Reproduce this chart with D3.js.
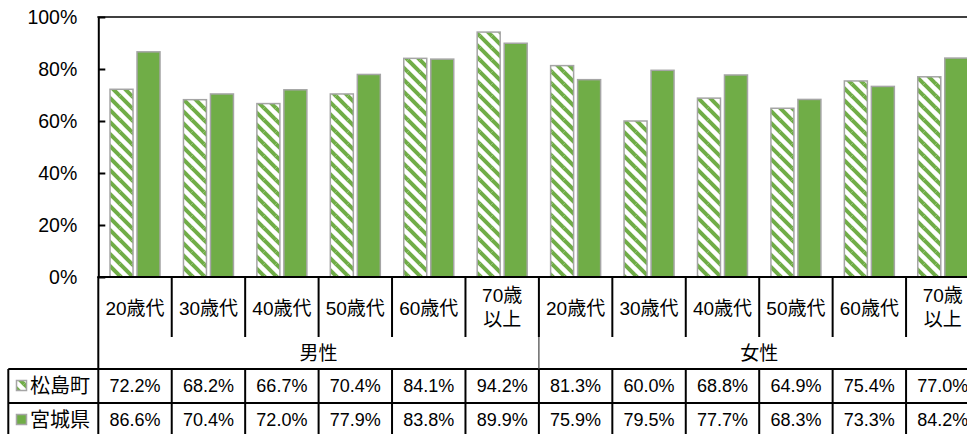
<!DOCTYPE html>
<html>
<head>
<meta charset="utf-8">
<script src="https://cdn.jsdelivr.net/npm/d3@7"></script>
<style>
  html, body { margin: 0; padding: 0; background: #fff; overflow: hidden; }
  svg { display: block; font-family: "Liberation Sans", "Noto Sans CJK JP", sans-serif; }
</style>
</head>
<body>
<svg id="chart" width="967" height="434"></svg>
<script>
// Age brackets (two-line labels split on "\n")
const categories = ["20歳代", "30歳代", "40歳代", "50歳代", "60歳代", "70歳\n以上",
                    "20歳代", "30歳代", "40歳代", "50歳代", "60歳代", "70歳\n以上"];
const groups = ["男性", "女性"];
const groupSizes = [6, 6];
const seriesNames = ["松島町", "宮城県"];
const matsushima = [72.2, 68.2, 66.7, 70.4, 84.1, 94.2, 81.3, 60.0, 68.8, 64.9, 75.4, 77.0];
const miyagi = [86.6, 70.4, 72.0, 77.9, 83.8, 89.9, 75.9, 79.5, 77.7, 68.3, 73.3, 84.2];
const yTicks = [0, 20, 40, 60, 80, 100];

const GREEN = "#70AD47";
const BORDER = "#A5A5A5";

const svg = d3.select("#chart");
const plotLeft = 98.3, plotRight = 979.5, plotTop = 17, plotBottom = 277;

const idx = d3.range(categories.length);
const x = d3.scaleBand().domain(idx).range([plotLeft, plotRight]).padding(0);
const y = d3.scaleLinear().domain([0, 100]).range([plotBottom, plotTop]);
const x1 = d3.scaleBand().domain(seriesNames).range([0, 50]).paddingInner(4 / 27);
const groupOffset = (x.bandwidth() - 50) / 2;

// Diagonal hatch fill
const defs = svg.append("defs");
const hatch = defs.append("pattern")
  .attr("id", "hatch").attr("patternUnits", "userSpaceOnUse")
  .attr("width", 12).attr("height", 12);
hatch.append("rect").attr("width", 12).attr("height", 12).attr("fill", "#fff");
[[-12, -12], [0, 0], [12, 12], [-12, 0], [0, -12], [12, 0], [0, 12]].forEach(([dx, dy]) => {
  hatch.append("line")
    .attr("x1", dx).attr("y1", dy).attr("x2", dx + 12).attr("y2", dy + 12)
    .attr("stroke", GREEN).attr("stroke-width", 4);
});

const fills = { "松島町": "url(#hatch)", "宮城県": GREEN };
const values = { "松島町": matsushima, "宮城県": miyagi };

// Bars
const barG = svg.append("g");
seriesNames.forEach(s => {
  barG.selectAll(null).data(values[s]).enter().append("rect")
    .attr("x", (d, i) => x(i) + groupOffset + x1(s))
    .attr("y", d => y(d))
    .attr("width", x1.bandwidth())
    .attr("height", d => y(0) - y(d))
    .attr("fill", fills[s])
    .attr("stroke", BORDER).attr("stroke-width", 1.5);
});

// Y axis with inward ticks
const yAxis = d3.axisLeft(y).tickValues(yTicks).tickSize(-7).tickSizeOuter(0)
  .tickPadding(21).tickFormat(d => d + "%");
const ag = svg.append("g").attr("transform", `translate(${plotLeft},0)`).call(yAxis);
ag.select(".domain").attr("stroke", "#000").attr("stroke-width", 2);
ag.selectAll(".tick line").attr("stroke", "#000").attr("stroke-width", 2);
ag.selectAll(".tick text").attr("fill", "#000").style("font-size", "19.5px")
  .style("font-family", "'Liberation Sans', sans-serif").attr("dy", "0.35em");

// Top border line
svg.append("line").attr("x1", plotLeft - 1).attr("x2", plotRight).attr("y1", plotTop).attr("y2", plotTop)
  .attr("stroke", "#000").attr("stroke-width", 1.5);

// Data table beneath the plot
const tg = svg.append("g");
const catBottom = 337, groupRowBottom = 369, rowH = 34, tableLeft = 8.3;
const rowTops = [groupRowBottom, groupRowBottom + rowH];

const line = (x1_, y1_, x2_, y2_, w = 2, c = "#000") =>
  tg.append("line").attr("x1", x1_).attr("y1", y1_).attr("x2", x2_).attr("y2", y2_)
    .attr("stroke", c).attr("stroke-width", w);

// horizontal rules
line(plotLeft - 1, plotBottom, plotRight, plotBottom);
line(tableLeft, groupRowBottom, plotRight, groupRowBottom);
line(tableLeft, groupRowBottom + rowH, plotRight, groupRowBottom + rowH);
line(tableLeft, groupRowBottom + 2 * rowH, plotRight, groupRowBottom + 2 * rowH);
// left edges
line(plotLeft, plotBottom, plotLeft, 434);
line(tableLeft, groupRowBottom, tableLeft, 434);
// category separators
idx.slice(1).forEach(i => {
  line(x(i), plotBottom, x(i), catBottom);
  line(x(i), groupRowBottom, x(i), 434);
});
// separator between the two groups in the group row
line(x(groupSizes[0]), catBottom, x(groupSizes[0]), groupRowBottom, 1.2, "#444");

// category labels
idx.forEach(i => {
  const parts = categories[i].split("\n");
  const cx = x(i) + x.bandwidth() / 2;
  const t = tg.append("text").attr("text-anchor", "middle").style("font-size", "19px").attr("fill", "#000");
  if (parts.length === 1) {
    t.append("tspan").attr("x", cx).attr("y", 308).attr("dy", "0.35em").text(parts[0]);
  } else {
    parts.forEach((p, k) => t.append("tspan").attr("x", cx).attr("y", 295 + k * 24).attr("dy", "0.35em").text(p));
  }
});

// group labels
let start = 0;
groups.forEach((g, gi) => {
  const a = x(start), b = x(start + groupSizes[gi] - 1) + x.bandwidth();
  tg.append("text").attr("x", (a + b) / 2).attr("y", 353).attr("dy", "0.35em")
    .attr("text-anchor", "middle").style("font-size", "19px").text(g);
  start += groupSizes[gi];
});

// value rows with legend keys
seriesNames.forEach((s, si) => {
  const cy = rowTops[si] + rowH / 2;
  tg.append("rect").attr("x", 16.5).attr("y", cy - 5.5).attr("width", 10).attr("height", 10)
    .attr("fill", fills[s]).attr("stroke", BORDER).attr("stroke-width", 1.5);
  tg.append("text").attr("x", 30).attr("y", cy).attr("dy", "0.35em")
    .style("font-size", "20px").text(s);
  tg.selectAll(null).data(values[s]).enter().append("text")
    .attr("x", (d, i) => x(i) + x.bandwidth() / 2).attr("y", cy).attr("dy", "0.35em")
    .attr("text-anchor", "middle").style("font-size", "18px")
    .text(d => d.toFixed(1) + "%");
});
</script>
</body>
</html>
